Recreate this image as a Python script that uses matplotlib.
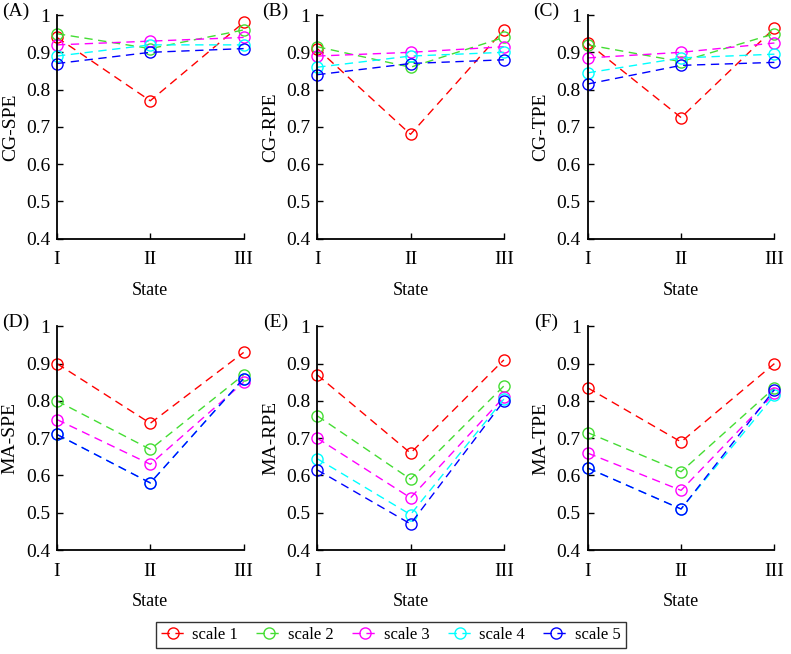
import numpy as np
import matplotlib
matplotlib.use('Agg')
import matplotlib.pyplot as plt

plt.rcParams['font.family'] = ['Liberation Serif', 'DejaVu Serif']
plt.rcParams['font.size'] = 13

states = ['I', 'II', 'III']
series_names = ['scale 1', 'scale 2', 'scale 3', 'scale 4', 'scale 5']
colors = ['#ff0000', '#44dd33', '#ff00ff', '#00ffff', '#0000ff']

panel_tags = ['(A)', '(B)', '(C)', '(D)', '(E)', '(F)']
ylabels = ['CG-SPE', 'CG-RPE', 'CG-TPE', 'MA-SPE', 'MA-RPE', 'MA-TPE']

# values per panel: rows = scale 1..5, cols = state I, II, III
cg_spe = [[0.94, 0.77, 0.98],
          [0.95, 0.91, 0.96],
          [0.92, 0.93, 0.94],
          [0.89, 0.92, 0.92],
          [0.87, 0.90, 0.91]]
cg_rpe = [[0.91, 0.68, 0.96],
          [0.915, 0.86, 0.94],
          [0.89, 0.90, 0.915],
          [0.86, 0.89, 0.90],
          [0.84, 0.87, 0.88]]
cg_tpe = [[0.925, 0.725, 0.965],
          [0.92, 0.875, 0.95],
          [0.885, 0.90, 0.925],
          [0.845, 0.885, 0.895],
          [0.815, 0.865, 0.873]]
ma_spe = [[0.90, 0.74, 0.93],
          [0.80, 0.67, 0.87],
          [0.75, 0.63, 0.85],
          [0.71, 0.58, 0.86],
          [0.71, 0.58, 0.86]]
ma_rpe = [[0.87, 0.66, 0.91],
          [0.76, 0.59, 0.84],
          [0.70, 0.54, 0.81],
          [0.645, 0.495, 0.805],
          [0.615, 0.47, 0.80]]
ma_tpe = [[0.835, 0.69, 0.90],
          [0.715, 0.61, 0.835],
          [0.66, 0.56, 0.82],
          [0.62, 0.51, 0.815],
          [0.62, 0.51, 0.83]]
panels = [cg_spe, cg_rpe, cg_tpe, ma_spe, ma_rpe, ma_tpe]

yticks = [0.4, 0.5, 0.6, 0.7, 0.8, 0.9, 1.0]
ytick_labels = ['0.4', '0.5', '0.6', '0.7', '0.8', '0.9', '1']

fig = plt.figure(figsize=(7.91, 6.54), dpi=100)

lefts = [0.072, 0.401, 0.743]
width = 0.236
bottoms = [0.635, 0.159]
height = 0.342

x = np.arange(1, len(states) + 1)
handles = []
for k, data in enumerate(panels):
    row, col = divmod(k, 3)
    ax = fig.add_axes([lefts[col], bottoms[row], width, height])
    for i, vals in enumerate(data):
        ln, = ax.plot(x, vals, color=colors[i], linestyle=(0, (6, 4)), lw=1,
                      marker='o', markersize=8, markerfacecolor='none',
                      markeredgewidth=1, clip_on=False, label=series_names[i])
        if k == 0:
            handles.append(ln)
    ax.set_xlim(1, 3)
    ax.set_ylim(0.4, 1.0)
    ax.set_xticks(x)
    ax.set_xticklabels(states)
    ax.set_yticks(yticks)
    ax.set_yticklabels(ytick_labels)
    ax.spines['top'].set_visible(False)
    ax.spines['right'].set_visible(False)
    ax.spines['left'].set_linewidth(1.3)
    ax.spines['bottom'].set_linewidth(1.3)
    ax.tick_params(direction='in', length=4, width=1, labelsize=14)
    ax.tick_params(axis='x', pad=9)
    ax.tick_params(axis='y', pad=5)
    ax.set_xlabel('State', fontsize=13, labelpad=10)
    ax.set_ylabel(ylabels[k], fontsize=14, labelpad=5)
    ax.annotate(panel_tags[k], xy=(0, 1), xycoords='axes fraction',
                xytext=(-30, 3), textcoords='offset points',
                fontsize=14, ha='center', va='center')

leg = fig.legend(handles=handles, loc='center', ncol=5,
                 bbox_to_anchor=(0.494, 0.029), frameon=True, fancybox=False,
                 edgecolor='black', fontsize=12, handlelength=1.5,
                 columnspacing=1.1, handletextpad=0.4, borderpad=0.3,
                 borderaxespad=0)
leg.get_frame().set_linewidth(1)

fig.savefig('out.png', dpi=100)
